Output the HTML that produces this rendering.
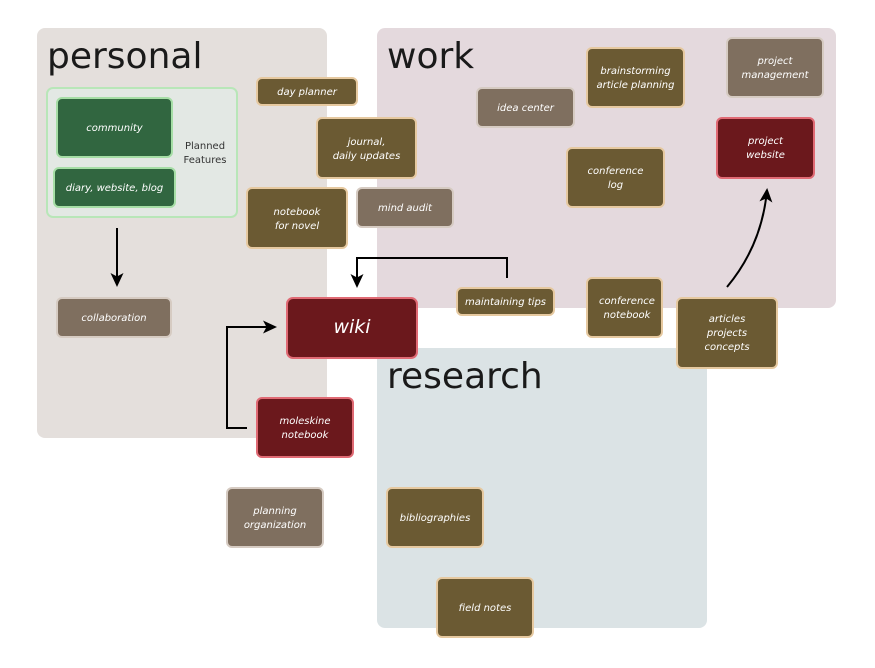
<!DOCTYPE html>
<html>
<head>
<meta charset="utf-8">
<style>
html,body{margin:0;padding:0;background:#ffffff;}
svg{display:block;}
.t{font-family:"DejaVu Sans","Liberation Sans",sans-serif;font-style:italic;font-size:10px;fill:#ffffff;text-anchor:middle;}
.title{font-family:"DejaVu Sans","Liberation Sans",sans-serif;font-size:36px;fill:#1a1a1a;}
.ol{fill:#6b5a33;stroke:#e6c9a0;stroke-width:2;}
.gb{fill:#7f6f5f;stroke:#d6cbc2;stroke-width:2;}
.rd{fill:#6b181c;stroke:#e06a74;stroke-width:2;}
.gr{fill:#316640;stroke:#a6dea6;stroke-width:2;}
</style>
</head>
<body>
<svg width="875" height="668" viewBox="0 0 875 668" xmlns="http://www.w3.org/2000/svg">
<defs>
<marker id="ah" markerWidth="14" markerHeight="14" refX="12" refY="7" orient="auto" markerUnits="userSpaceOnUse">
<path d="M0,0.5 L14,7 L0,13.5 L3.5,7 Z" fill="#000"/>
</marker>
</defs>
<!-- regions -->
<rect x="37" y="28" width="290" height="410" rx="8" fill="#e4dfdc"/>
<rect x="377" y="28" width="459" height="280" rx="8" fill="#e4d9dd"/>
<rect x="377" y="348" width="330" height="280" rx="8" fill="#dbe3e5"/>
<text class="title" x="47" y="68">personal</text>
<text class="title" x="387" y="68">work</text>
<text class="title" x="387" y="388">research</text>

<!-- planned features -->
<rect x="47" y="88" width="190" height="129" rx="6" fill="#e3e8e4" stroke="#b8e6b8" stroke-width="2"/>
<rect class="gr" x="57" y="98" width="115" height="59" rx="5"/>
<text class="t" x="114.5" y="131">community</text>
<rect class="gr" x="54" y="168" width="121" height="39" rx="5"/>
<text class="t" x="114.5" y="191">diary, website, blog</text>
<text x="205" y="149" font-family="DejaVu Sans, Liberation Sans, sans-serif" font-size="10" fill="#333" text-anchor="middle">Planned</text>
<text x="205" y="163" font-family="DejaVu Sans, Liberation Sans, sans-serif" font-size="10" fill="#333" text-anchor="middle">Features</text>

<!-- arrow planned -> collaboration -->
<line x1="117" y1="228" x2="117" y2="285" stroke="#000" stroke-width="2" marker-end="url(#ah)"/>

<rect class="gb" x="57" y="298" width="114" height="39" rx="5"/>
<text class="t" x="114" y="321">collaboration</text>

<!-- nodes -->
<rect class="ol" x="257" y="78" width="100" height="27" rx="5"/>
<text class="t" x="307" y="95">day planner</text>

<rect class="ol" x="317" y="118" width="99" height="60" rx="5"/>
<text class="t" x="366.5" y="145">journal,</text>
<text class="t" x="366.5" y="159">daily updates</text>

<rect class="ol" x="247" y="188" width="100" height="60" rx="5"/>
<text class="t" x="297" y="215">notebook</text>
<text class="t" x="297" y="229">for novel</text>

<rect class="gb" x="357" y="188" width="96" height="39" rx="5"/>
<text class="t" x="405" y="211">mind audit</text>

<rect class="gb" x="477" y="88" width="97" height="39" rx="5"/>
<text class="t" x="525.5" y="111">idea center</text>

<rect class="ol" x="587" y="48" width="97" height="59" rx="5"/>
<text class="t" x="635.5" y="74">brainstorming</text>
<text class="t" x="635.5" y="88">article planning</text>

<rect class="gb" x="727" y="38" width="96" height="59" rx="5"/>
<text class="t" x="775" y="64">project</text>
<text class="t" x="775" y="78">management</text>

<rect class="rd" x="717" y="118" width="97" height="60" rx="5"/>
<text class="t" x="765.5" y="144">project</text>
<text class="t" x="765.5" y="158">website</text>

<rect class="ol" x="567" y="148" width="97" height="59" rx="5"/>
<text class="t" x="615.5" y="174">conference</text>
<text class="t" x="615.5" y="188">log</text>

<rect class="ol" x="457" y="288" width="97" height="27" rx="5"/>
<text class="t" x="505.5" y="305">maintaining tips</text>

<rect class="ol" x="587" y="278" width="75" height="59" rx="5"/>
<text class="t" x="627" y="304">conference</text>
<text class="t" x="627" y="318">notebook</text>

<rect class="ol" x="677" y="298" width="100" height="70" rx="5"/>
<text class="t" x="727" y="322">articles</text>
<text class="t" x="727" y="336">projects</text>
<text class="t" x="727" y="350">concepts</text>

<rect class="rd" x="287" y="298" width="130" height="60" rx="6"/>
<text class="t" x="352" y="333" style="font-size:19px">wiki</text>

<rect class="rd" x="257" y="398" width="96" height="59" rx="5"/>
<text class="t" x="305" y="424">moleskine</text>
<text class="t" x="305" y="438">notebook</text>

<rect class="gb" x="227" y="488" width="96" height="59" rx="5"/>
<text class="t" x="275" y="514">planning</text>
<text class="t" x="275" y="528">organization</text>

<rect class="ol" x="387" y="488" width="96" height="59" rx="5"/>
<text class="t" x="435" y="521">bibliographies</text>

<rect class="ol" x="437" y="578" width="96" height="59" rx="5"/>
<text class="t" x="485" y="611">field notes</text>

<!-- connectors -->
<polyline points="507,278 507,258 357,258 357,286" fill="none" stroke="#000" stroke-width="2" marker-end="url(#ah)"/>
<polyline points="247,428 227,428 227,327 275,327" fill="none" stroke="#000" stroke-width="2" marker-end="url(#ah)"/>
<path d="M727,287 Q762,245 767,190" fill="none" stroke="#000" stroke-width="2" marker-end="url(#ah)"/>
</svg>
</body>
</html>
